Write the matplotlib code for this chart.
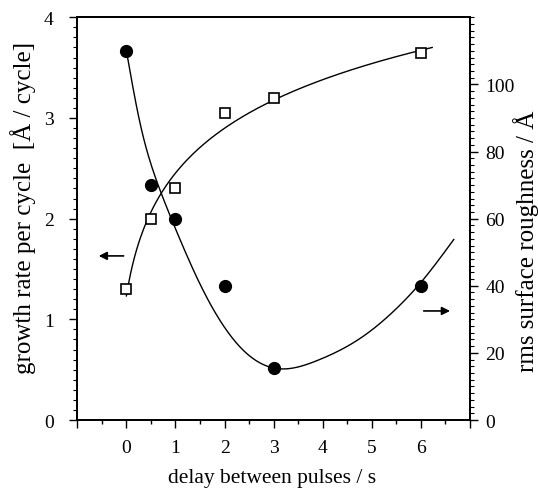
import matplotlib
matplotlib.use('Agg')
import matplotlib.pyplot as plt
import numpy as np
from matplotlib.ticker import MultipleLocator, FixedLocator, FuncFormatter

# Data
delay = [0, 0.5, 1, 2, 3, 6]
growth_rate = [1.3, 2.0, 2.3, 3.05, 3.2, 3.65]      # left axis, open squares
roughness = [110, 70, 60, 40, 15.5, 40]            # right axis, filled circles

# points
guide_x = [0, 0.27, 0.66, 1.0, 1.5, 2.3, 3.0, 3.9, 4.8, 5.5, 6.0, 6.67]
guide_y = [110, 89, 69.5, 57, 40.5, 22, 15.5, 17.8, 24.7, 33.2, 41, 53.8]


def natural_spline(x, y, xs):
    x, y = np.asarray(x, float), np.asarray(y, float)
    n = len(x)
    h = np.diff(x)
    M = np.zeros((n, n))
    r = np.zeros(n)
    M[0, 0] = M[-1, -1] = 1
    for i in range(1, n - 1):
        M[i, i - 1], M[i, i], M[i, i + 1] = h[i - 1], 2 * (h[i - 1] + h[i]), h[i]
        r[i] = 6 * ((y[i + 1] - y[i]) / h[i] - (y[i] - y[i - 1]) / h[i - 1])
    m = np.linalg.solve(M, r)
    k = np.clip(np.searchsorted(x, xs) - 1, 0, n - 2)
    hh = x[k + 1] - x[k]
    t0, t1 = x[k + 1] - xs, xs - x[k]
    return ((m[k] * t0 ** 3 + m[k + 1] * t1 ** 3) / (6 * hh)
            + (y[k] / hh - m[k] * hh / 6) * t0 + (y[k + 1] / hh - m[k + 1] * hh / 6) * t1)


plt.rcParams['font.family'] = 'Liberation Serif'
plt.rcParams['font.size'] = 14

fig = plt.figure(figsize=(5.38, 4.89), dpi=100)
ax = fig.add_axes([0.1437, 0.139, 0.8736 - 0.1437, 0.9626 - 0.139])
ax2 = ax.twinx()

# growth rate: logarithmic fit
c = 0.25
b, a = np.polyfit(np.log(np.array(delay) + c), growth_rate, 1)
xs = np.linspace(0, 6.23, 300)
ax.plot(xs, a + b * np.log(xs + c), color='black', lw=1)
ax.plot(delay, growth_rate, 's', mfc='white', mec='black', ms=7.5, mew=1.2, zorder=3)

# roughness: smooth guide curve
xr = np.linspace(0, 6.67, 400)
ax2.plot(xr, natural_spline(guide_x, guide_y, xr), color='black', lw=1)
ax2.plot(delay, roughness, 'o', color='black', ms=8.5, zorder=3)

# arrows pointing to the axes
ax.annotate('', xy=(-0.62, 1.63), xytext=(0.0, 1.63),
            arrowprops=dict(arrowstyle='-|>', color='black', lw=1.2, mutation_scale=12))
ax2.annotate('', xy=(6.65, 32.5), xytext=(6.0, 32.5),
             arrowprops=dict(arrowstyle='-|>', color='black', lw=1.2, mutation_scale=12))

ax.set_xlim(-1, 7)
ax.set_ylim(0, 4)
ax2.set_ylim(0, 120)

ax.xaxis.set_major_locator(FixedLocator(range(-1, 8)))
ax.xaxis.set_major_formatter(FuncFormatter(lambda v, p: f'{int(v)}' if 0 <= v <= 6 else ''))
ax.xaxis.set_minor_locator(MultipleLocator(0.5))
ax.yaxis.set_major_locator(MultipleLocator(1))
ax.yaxis.set_minor_locator(MultipleLocator(0.1))
ax2.yaxis.set_major_locator(FixedLocator([0, 20, 40, 60, 80, 100]))
ax2.yaxis.set_minor_locator(MultipleLocator(2))

ax.tick_params(axis='x', which='major', length=6, width=1, pad=8, labelsize=14)
ax.tick_params(axis='x', which='minor', length=3, width=1)
ax.tick_params(axis='y', which='major', length=6, width=1, pad=11, labelsize=14)
ax.tick_params(axis='y', which='minor', length=3, width=0.8)
ax2.tick_params(axis='y', which='major', length=6, width=1, pad=5, labelsize=14)
ax2.tick_params(axis='y', which='minor', length=3, width=0.8)

for sp in list(ax.spines.values()) + list(ax2.spines.values()):
    sp.set_linewidth(1.3)

ax.set_xlabel('delay between pulses / s', fontsize=15.5)
ax.xaxis.set_label_coords(0.496, -0.118)
ax.set_ylabel('growth rate per cycle  [Å / cycle]', fontsize=18)
ax.yaxis.set_label_coords(-0.105, 0.53)
ax2.set_ylabel('rms surface roughness / Å', fontsize=18)
ax2.yaxis.set_label_coords(1.11, 0.447)

fig.savefig('out.png', dpi=100)
